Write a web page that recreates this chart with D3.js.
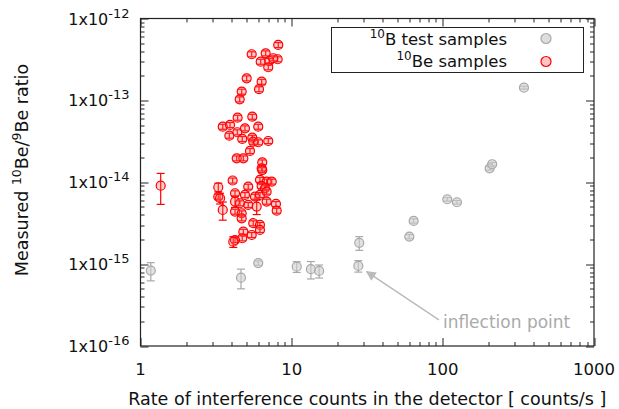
<!DOCTYPE html>
<html>
<head>
<meta charset="utf-8">
<script src="https://cdnjs.cloudflare.com/ajax/libs/d3/7.8.5/d3.min.js"></script>
<style>
  body { margin: 0; background: #fff; }
  text { font-family: "DejaVu Sans", Verdana, sans-serif; }
</style>
</head>
<body>
<div id="chart"></div>
<script>
// 10B test samples: rate, ratio, relative error
var bX   = [1.17, 4.62, 6.01, 10.8, 13.4, 15.2, 27.6, 28.0, 60.0, 64.1, 107, 124, 204, 212, 344];
var bY   = [8.33e-16, 6.84e-16, 1.03e-15, 9.31e-16, 8.67e-16, 8.26e-16, 9.51e-16, 1.82e-15,
            2.17e-15, 3.37e-15, 6.2e-15, 5.7e-15, 1.48e-14, 1.66e-14, 1.43e-13];
var bErr = [0.25, 0.27, 0.06, 0.15, 0.24, 0.18, 0.16, 0.19, 0.06, 0.06, 0.05, 0.05, 0.05, 0.05, 0.04];

// 10Be samples
var beX = [8.15, 5.44, 6.73, 6.24, 7.11, 8.08, 7.00, 7.55, 5.04, 6.33, 6.08, 4.67, 4.53,
           4.39, 5.49, 3.50, 3.91, 3.87, 4.37, 4.91, 6.01, 4.71, 5.49, 5.57, 6.01, 7.00,
           5.30, 4.33, 4.79, 6.39, 6.33, 6.39,
           4.07, 3.27, 6.17, 6.83, 7.38, 6.33, 6.66, 5.16, 4.22, 3.27, 3.36, 4.91, 5.72,
           6.17, 6.83, 4.22, 4.55, 5.16, 5.87, 6.83, 7.87, 7.96, 3.50, 4.22, 4.67, 4.67,
           5.57, 6.17, 6.17, 5.44, 4.79, 4.71, 4.22, 4.11, 1.36];
var beY = [4.75e-13, 3.66e-13, 3.76e-13, 2.97e-13, 3.03e-13, 3.18e-13, 2.54e-13, 3.27e-13,
           1.86e-13, 1.69e-13, 1.37e-13, 1.28e-13, 1.03e-13,
           6.15e-14, 6.32e-14, 4.77e-14, 5.01e-14, 3.71e-14, 4.08e-14, 4.56e-14, 4.77e-14,
           3.38e-14, 3.50e-14, 3.13e-14, 3.08e-14, 3.19e-14, 2.41e-14, 1.96e-14, 1.96e-14,
           1.75e-14, 1.48e-14, 1.41e-14,
           1.05e-14, 8.69e-15, 1.07e-14, 1.02e-14, 1.02e-14, 9.01e-15, 8.45e-15, 8.84e-15,
           7.34e-15, 6.67e-15, 6.38e-15, 7.00e-15, 6.67e-15, 7.00e-15, 7.68e-15, 5.80e-15,
           5.54e-15, 5.28e-15, 5.04e-15, 5.80e-15, 5.43e-15, 4.50e-15, 4.59e-15, 4.38e-15,
           4.18e-15, 3.63e-15, 3.16e-15, 3.01e-15, 2.62e-15, 2.27e-15, 2.49e-15, 2.07e-15,
           1.97e-15, 1.88e-15, 9.09e-15];
var beErr = [0.07, 0.07, 0.07, 0.07, 0.07, 0.07, 0.07, 0.07, 0.07, 0.07, 0.07, 0.07, 0.07,
             0.07, 0.07, 0.07, 0.07, 0.07, 0.07, 0.07, 0.07, 0.07, 0.07, 0.07, 0.07, 0.07,
             0.07, 0.07, 0.07, 0.07, 0.07, 0.07,
             0.07, 0.12, 0.07, 0.07, 0.07, 0.07, 0.07, 0.07, 0.07, 0.07, 0.15, 0.07, 0.07,
             0.07, 0.07, 0.15, 0.07, 0.07, 0.2, 0.07, 0.07, 0.07, 0.25, 0.07, 0.07, 0.07,
             0.07, 0.07, 0.07, 0.07, 0.07, 0.07, 0.07, 0.15, 0.41];

var xTickLabels = ["1", "10", "100", "1000"];
var yTickExps = ["-12", "-13", "-14", "-15", "-16"];
var arrowFrom = [94.2, 2.08e-16], arrowTo = [31.3, 8.1e-16];

var W = 619, H = 409;
var margin = {top: 18.5, right: 25, bottom: 63, left: 140.5};
var width = W - margin.left - margin.right,
    height = H - margin.top - margin.bottom;

var svg = d3.select("#chart").append("svg")
    .attr("width", W).attr("height", H);
var g = svg.append("g")
    .attr("transform", "translate(" + margin.left + "," + margin.top + ")");

var x = d3.scaleLog().domain([1, 1000]).range([0, width]);
var y = d3.scaleLog().domain([1e-16, 1e-12]).range([height, 0]);

// ticks on all four sides, pointing inward
function isMajor(v) { return Math.abs(Math.log10(v) - Math.round(Math.log10(v))) < 1e-9; }
var tickG = g.append("g").attr("stroke", "#222").attr("stroke-width", 1);
x.ticks().forEach(function(v) {
  var len = isMajor(v) ? 8 : 4, px = Math.round(x(v)) + 0.5;
  tickG.append("line").attr("x1", px).attr("x2", px).attr("y1", height).attr("y2", height - len);
  tickG.append("line").attr("x1", px).attr("x2", px).attr("y1", 0).attr("y2", len);
});
y.ticks().forEach(function(v) {
  var len = isMajor(v) ? 8 : 4, py = Math.round(y(v)) + 0.5;
  tickG.append("line").attr("y1", py).attr("y2", py).attr("x1", 0).attr("x2", len);
  tickG.append("line").attr("y1", py).attr("y2", py).attr("x1", width).attr("x2", width - len);
});

g.append("rect").attr("width", width).attr("height", height)
  .attr("fill", "none").attr("stroke", "#222").attr("stroke-width", 1.2);

// x tick labels
xTickLabels.forEach(function(t) {
  g.append("text").attr("x", x(+t)).attr("y", height + 29)
    .attr("text-anchor", "middle").attr("font-size", 16.5).attr("fill", "#111").text(t);
});
// y tick labels
yTickExps.forEach(function(e) {
  var t = g.append("text").attr("x", -11).attr("y", y(Math.pow(10, +e)) + 6)
    .attr("text-anchor", "end").attr("font-size", 16).attr("fill", "#111");
  t.append("tspan").text("1x10");
  t.append("tspan").attr("dy", -7).attr("font-size", 13).text(e);
});

// axis titles
svg.append("text").attr("x", margin.left + width / 2).attr("y", 405)
  .attr("text-anchor", "middle").attr("font-size", 17.5).attr("fill", "#111")
  .text("Rate of interference counts in the detector [ counts/s ]");
var yl = svg.append("text").attr("transform", "translate(28,170) rotate(-90)")
  .attr("text-anchor", "middle").attr("font-size", 17.5).attr("fill", "#111");
yl.append("tspan").text("Measured ");
yl.append("tspan").attr("dy", -7).attr("font-size", 12.5).text("10");
yl.append("tspan").attr("dy", 7).text("Be/");
yl.append("tspan").attr("dy", -7).attr("font-size", 12.5).text("9");
yl.append("tspan").attr("dy", 7).text("Be ratio");

// annotation arrow
svg.append("defs").append("marker").attr("id", "head")
  .attr("viewBox", "0 0 10 10").attr("refX", 9).attr("refY", 5)
  .attr("markerWidth", 15).attr("markerHeight", 10).attr("markerUnits", "userSpaceOnUse")
  .attr("orient", "auto")
  .append("path").attr("d", "M0,0 L10,5 L0,10 Z").attr("fill", "#bbb");
g.append("line")
  .attr("x1", x(arrowFrom[0])).attr("y1", y(arrowFrom[1]))
  .attr("x2", x(arrowTo[0])).attr("y2", y(arrowTo[1]))
  .attr("stroke", "#bbb").attr("stroke-width", 1.5).attr("marker-end", "url(#head)");
g.append("text").attr("x", x(arrowFrom[0]) + 4).attr("y", y(arrowFrom[1]) + 8)
  .attr("font-size", 17).attr("fill", "#aaa").text("inflection point");

function drawSeries(xs, ys, errs, stroke, fill, barColor) {
  var data = xs.map(function(v, i) { return {x: v, y: ys[i], e: errs[i]}; });
  var s = g.append("g");
  data.forEach(function(d) {
    var cx = x(d.x), hi = y(d.y * (1 + d.e)), lo = y(d.y * (1 - d.e));
    s.append("line").attr("x1", cx).attr("x2", cx).attr("y1", hi).attr("y2", lo)
      .attr("stroke", barColor).attr("stroke-width", 1.2);
    [hi, lo].forEach(function(py) {
      s.append("line").attr("x1", cx - 4).attr("x2", cx + 4).attr("y1", py).attr("y2", py)
        .attr("stroke", barColor).attr("stroke-width", 1.2);
    });
  });
  s.selectAll("circle").data(data).enter().append("circle")
    .attr("cx", function(d) { return x(d.x); })
    .attr("cy", function(d) { return y(d.y); })
    .attr("r", 4.5)
    .attr("fill", fill).attr("stroke", stroke).attr("stroke-width", 1.2);
}
drawSeries(bX, bY, bErr, "#a8a8a8", "rgba(205,205,205,0.6)", "#a8a8a8");
drawSeries(beX, beY, beErr, "#ff0000", "rgba(255,90,90,0.3)", "#ff0000");

// legend
var lg = svg.append("g");
lg.append("rect").attr("x", 331.5).attr("y", 27.5).attr("width", 252).attr("height", 45)
  .attr("fill", "#fff").attr("stroke", "#222").attr("stroke-width", 1);
var l1 = lg.append("text").attr("x", 507).attr("y", 45).attr("text-anchor", "end")
  .attr("font-size", 16.5).attr("fill", "#111");
l1.append("tspan").attr("font-size", 12).attr("baseline-shift", "super").text("10");
l1.append("tspan").text("B test samples");
var l2 = lg.append("text").attr("x", 507).attr("y", 67).attr("text-anchor", "end")
  .attr("font-size", 16.5).attr("fill", "#111");
l2.append("tspan").attr("font-size", 12).attr("baseline-shift", "super").text("10");
l2.append("tspan").text("Be samples");
lg.append("circle").attr("cx", 546).attr("cy", 38.5).attr("r", 5)
  .attr("fill", "#ddd").attr("stroke", "#a8a8a8").attr("stroke-width", 1.2);
lg.append("circle").attr("cx", 546).attr("cy", 61.5).attr("r", 5)
  .attr("fill", "#ffc4c4").attr("stroke", "#ff0000").attr("stroke-width", 1.2);
</script>
</body>
</html>
